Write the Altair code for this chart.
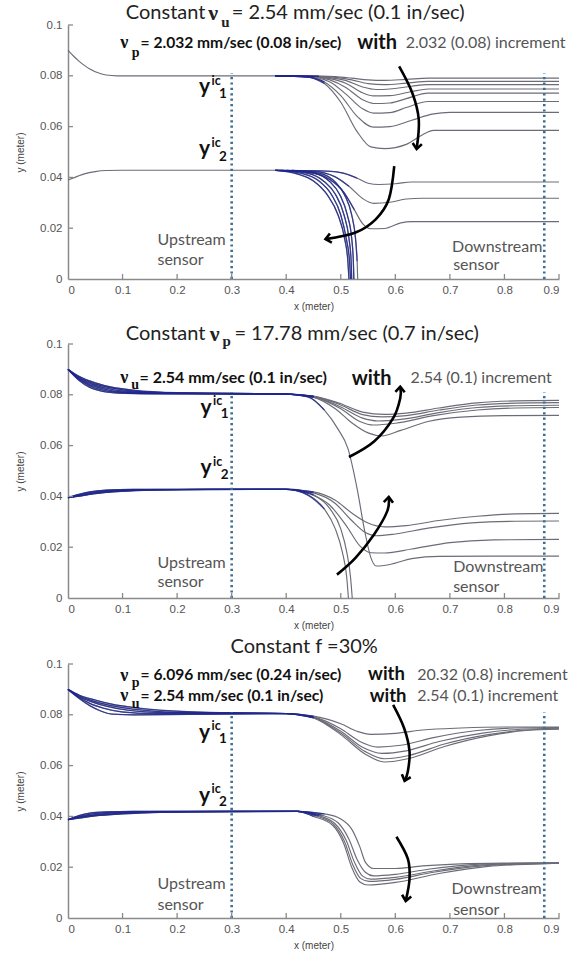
import altair as alt
import pandas as pd

# ---------------- axis ticks ----------------
X_TICKS = [0, 0.1, 0.2, 0.3, 0.4, 0.5, 0.6, 0.7, 0.8, 0.9]
Y_TICKS = [0, 0.02, 0.04, 0.06, 0.08, 0.1]
SENSOR_X = [0.3, 0.873]
SENSOR_TOP = 0.081

# ---------------- panel 1 : constant vu ----------------
P1_UPPER_BASE = [(0, 0.090), (0.01, 0.0878), (0.02, 0.0858), (0.03, 0.0841), (0.04, 0.0827),
                 (0.055, 0.0812), (0.07, 0.0803), (0.09, 0.0800), (0.2, 0.0800), (0.38, 0.0800)]
P1_UPPER = [
    [(0.38, 0.0800), (0.46, 0.0799), (0.49, 0.0797), (0.52, 0.0791), (0.55, 0.0784), (0.58, 0.0782), (0.62, 0.0786), (0.66, 0.0791), (0.9, 0.0791)],
    [(0.38, 0.0800), (0.46, 0.0798), (0.49, 0.0794), (0.52, 0.0784), (0.55, 0.0769), (0.58, 0.0765), (0.62, 0.0771), (0.66, 0.0778), (0.9, 0.0778)],
    [(0.38, 0.0800), (0.45, 0.0798), (0.48, 0.0793), (0.51, 0.0781), (0.54, 0.0756), (0.565, 0.0746), (0.59, 0.0748), (0.63, 0.0759), (0.66, 0.0765), (0.9, 0.0765)],
    [(0.38, 0.0800), (0.45, 0.0797), (0.48, 0.0789), (0.51, 0.0770), (0.54, 0.0733), (0.56, 0.0721), (0.59, 0.0722), (0.63, 0.0738), (0.66, 0.0748), (0.9, 0.0748)],
    [(0.38, 0.0800), (0.45, 0.0796), (0.48, 0.0784), (0.51, 0.0753), (0.54, 0.0706), (0.56, 0.0691), (0.59, 0.0693), (0.62, 0.0710), (0.66, 0.0732), (0.9, 0.0732)],
    [(0.38, 0.0800), (0.44, 0.0797), (0.48, 0.0776), (0.51, 0.0727), (0.54, 0.0670), (0.56, 0.0653), (0.59, 0.0655), (0.62, 0.0675), (0.66, 0.0699), (0.9, 0.0699)],
    [(0.38, 0.0800), (0.44, 0.0796), (0.47, 0.0776), (0.50, 0.0722), (0.53, 0.0640), (0.56, 0.0598), (0.59, 0.0600), (0.63, 0.0625), (0.67, 0.0650), (0.70, 0.0656), (0.9, 0.0656)],
    [(0.38, 0.0800), (0.44, 0.0795), (0.47, 0.0770), (0.50, 0.0696), (0.53, 0.0580), (0.555, 0.0520), (0.58, 0.0513), (0.62, 0.0530), (0.65, 0.0568), (0.67, 0.0585), (0.9, 0.0585)],
]
P1_LOWER_BASE = [(0, 0.0390), (0.015, 0.0402), (0.03, 0.0414), (0.05, 0.0423), (0.07, 0.0427), (0.1, 0.0428), (0.38, 0.0428)]
P1_LOWER = [
    [(0.38, 0.0428), (0.46, 0.0426), (0.50, 0.0419), (0.53, 0.0397), (0.55, 0.0377), (0.57, 0.0372), (0.60, 0.0375), (0.63, 0.0382), (0.9, 0.0382)],
    [(0.38, 0.0428), (0.45, 0.0424), (0.49, 0.0402), (0.515, 0.0365), (0.54, 0.0317), (0.56, 0.0298), (0.59, 0.0302), (0.62, 0.0315), (0.65, 0.0318), (0.9, 0.0318)],
    [(0.38, 0.0428), (0.44, 0.0421), (0.48, 0.0392), (0.505, 0.0343), (0.525, 0.0272), (0.54, 0.0218), (0.555, 0.0198), (0.58, 0.0199), (0.61, 0.0221), (0.63, 0.0226), (0.9, 0.0226)],
    [(0.38, 0.0428), (0.42, 0.0414), (0.45, 0.0386), (0.475, 0.0332), (0.495, 0.0252), (0.507, 0.0160), (0.513, 0.0070), (0.515, 0.0)],
    [(0.38, 0.0428), (0.43, 0.0415), (0.46, 0.0386), (0.483, 0.0332), (0.50, 0.0252), (0.51, 0.0160), (0.516, 0.0070), (0.518, 0.0)],
    [(0.39, 0.0428), (0.44, 0.0416), (0.47, 0.0383), (0.49, 0.0334), (0.506, 0.0252), (0.515, 0.0160), (0.519, 0.0070), (0.520, 0.0)],
    [(0.40, 0.0428), (0.45, 0.0417), (0.48, 0.0383), (0.498, 0.0333), (0.512, 0.0252), (0.520, 0.0160), (0.523, 0.0070), (0.524, 0.0)],
    [(0.41, 0.0428), (0.46, 0.0417), (0.49, 0.0381), (0.507, 0.0331), (0.52, 0.0252), (0.527, 0.0160), (0.530, 0.0070), (0.531, 0.0)],
]

# ---------------- panel 2 : constant vp ----------------
P2_UPPER = [
    [(0, 0.090), (0.02, 0.0857), (0.04, 0.0829), (0.06, 0.0815), (0.09, 0.0807), (0.15, 0.0804), (0.40, 0.0803),
     (0.45, 0.0795), (0.50, 0.0765), (0.54, 0.0732), (0.58, 0.0723), (0.62, 0.0728), (0.68, 0.0748), (0.75, 0.0768), (0.82, 0.0776), (0.9, 0.0778)],
    [(0, 0.090), (0.02, 0.0861), (0.04, 0.0835), (0.06, 0.0820), (0.09, 0.0810), (0.15, 0.0805), (0.40, 0.0803),
     (0.45, 0.0794), (0.50, 0.0760), (0.54, 0.0722), (0.575, 0.0713), (0.62, 0.0718), (0.68, 0.0740), (0.75, 0.0760), (0.82, 0.0767), (0.9, 0.0769)],
    [(0, 0.090), (0.02, 0.0864), (0.04, 0.0840), (0.065, 0.0823), (0.10, 0.0811), (0.16, 0.0806), (0.40, 0.0803),
     (0.45, 0.0793), (0.50, 0.0752), (0.54, 0.0708), (0.568, 0.0697), (0.61, 0.0703), (0.68, 0.0730), (0.75, 0.0750), (0.82, 0.0757), (0.9, 0.0759)],
    [(0, 0.090), (0.02, 0.0867), (0.045, 0.0841), (0.07, 0.0826), (0.10, 0.0815), (0.17, 0.0807), (0.40, 0.0803),
     (0.45, 0.0792), (0.50, 0.0745), (0.535, 0.0695), (0.56, 0.0681), (0.60, 0.0688), (0.67, 0.0718), (0.75, 0.0740), (0.82, 0.0748), (0.9, 0.0750)],
    [(0, 0.090), (0.02, 0.0870), (0.045, 0.0846), (0.07, 0.0831), (0.11, 0.0817), (0.18, 0.0808), (0.40, 0.0803),
     (0.45, 0.0790), (0.49, 0.0745), (0.52, 0.0690), (0.55, 0.0650), (0.575, 0.0638), (0.61, 0.0660), (0.66, 0.0695), (0.72, 0.0712), (0.80, 0.0718), (0.9, 0.0719)],
    [(0, 0.090), (0.02, 0.0873), (0.05, 0.0847), (0.08, 0.0830), (0.12, 0.0818), (0.20, 0.0808), (0.40, 0.0803),
     (0.44, 0.0792), (0.47, 0.0740), (0.495, 0.0665), (0.513, 0.0589), (0.53, 0.0430), (0.544, 0.0262), (0.555, 0.0160), (0.565, 0.0126),
     (0.59, 0.0132), (0.63, 0.0155), (0.68, 0.0164), (0.9, 0.0165)],
]
P2_LOWER = [
    [(0, 0.0395), (0.02, 0.0408), (0.04, 0.0418), (0.07, 0.0425), (0.12, 0.0428), (0.40, 0.0428),
     (0.45, 0.0418), (0.49, 0.0385), (0.52, 0.0335), (0.55, 0.0295), (0.58, 0.0280), (0.62, 0.0285), (0.68, 0.0305), (0.75, 0.0322), (0.82, 0.0331), (0.9, 0.0333)],
    [(0, 0.0395), (0.02, 0.0406), (0.045, 0.0417), (0.08, 0.0424), (0.13, 0.0427), (0.40, 0.0428),
     (0.45, 0.0414), (0.49, 0.0372), (0.52, 0.0305), (0.545, 0.0258), (0.565, 0.0245), (0.60, 0.0252), (0.66, 0.0275), (0.74, 0.0296), (0.82, 0.0302), (0.9, 0.0303)],
    [(0, 0.0395), (0.02, 0.0404), (0.05, 0.0415), (0.09, 0.0422), (0.14, 0.0426), (0.40, 0.0428),
     (0.44, 0.0412), (0.48, 0.0365), (0.51, 0.0285), (0.535, 0.0205), (0.555, 0.0178), (0.58, 0.0177), (0.63, 0.0193), (0.70, 0.0218), (0.78, 0.0229), (0.9, 0.0231)],
    [(0, 0.0395), (0.02, 0.0402), (0.05, 0.0413), (0.09, 0.0421), (0.15, 0.0426), (0.25, 0.0428), (0.40, 0.0428),
     (0.44, 0.0405), (0.47, 0.0350), (0.49, 0.0272), (0.503, 0.0180), (0.511, 0.0080), (0.514, 0.0)],
    [(0, 0.0395), (0.02, 0.0401), (0.05, 0.0411), (0.10, 0.0420), (0.16, 0.0425), (0.26, 0.0428), (0.41, 0.0428),
     (0.45, 0.0406), (0.48, 0.0352), (0.50, 0.0272), (0.511, 0.0180), (0.518, 0.0080), (0.521, 0.0)],
]

# ---------------- panel 3 : constant f ----------------
P3_UPPER = [
    [(0, 0.0900), (0.02, 0.0865), (0.04, 0.0836), (0.06, 0.0815), (0.08, 0.0803), (0.12, 0.0800), (0.25, 0.0802), (0.40, 0.0805),
     (0.45, 0.0795), (0.50, 0.0765), (0.53, 0.0735), (0.555, 0.0723), (0.60, 0.0727), (0.65, 0.0740), (0.72, 0.0748), (0.80, 0.0752), (0.9, 0.0752)],
    [(0, 0.0900), (0.02, 0.0869), (0.04, 0.0845), (0.065, 0.0826), (0.10, 0.0811), (0.16, 0.0805), (0.40, 0.0805),
     (0.45, 0.0792), (0.50, 0.0745), (0.535, 0.0695), (0.568, 0.0673), (0.61, 0.0680), (0.67, 0.0710), (0.75, 0.0738), (0.82, 0.0748), (0.9, 0.0750)],
    [(0, 0.0900), (0.02, 0.0872), (0.045, 0.0850), (0.07, 0.0834), (0.11, 0.0818), (0.18, 0.0808), (0.40, 0.0805),
     (0.45, 0.0790), (0.50, 0.0735), (0.54, 0.0672), (0.575, 0.0648), (0.62, 0.0658), (0.68, 0.0695), (0.76, 0.0728), (0.83, 0.0743), (0.9, 0.0747)],
    [(0, 0.0900), (0.02, 0.0875), (0.045, 0.0855), (0.075, 0.0838), (0.12, 0.0822), (0.20, 0.0810), (0.40, 0.0805),
     (0.45, 0.0789), (0.50, 0.0728), (0.545, 0.0655), (0.58, 0.0627), (0.625, 0.0640), (0.69, 0.0685), (0.77, 0.0722), (0.84, 0.0740), (0.9, 0.0745)],
    [(0, 0.0900), (0.02, 0.0878), (0.05, 0.0858), (0.08, 0.0842), (0.13, 0.0826), (0.22, 0.0812), (0.30, 0.0808), (0.40, 0.0805),
     (0.45, 0.0788), (0.50, 0.0722), (0.545, 0.0645), (0.58, 0.0614), (0.625, 0.0628), (0.69, 0.0675), (0.77, 0.0717), (0.84, 0.0738), (0.9, 0.0743)],
]
P3_LOWER = [
    [(0, 0.0387), (0.02, 0.0403), (0.04, 0.0413), (0.07, 0.0418), (0.12, 0.0420), (0.42, 0.0420),
     (0.47, 0.0410), (0.50, 0.0390), (0.52, 0.0350), (0.535, 0.0280), (0.545, 0.0220), (0.56, 0.0195), (0.60, 0.0195), (0.65, 0.0205), (0.72, 0.0213), (0.80, 0.0216), (0.9, 0.0217)],
    [(0, 0.0387), (0.02, 0.0400), (0.045, 0.0410), (0.08, 0.0416), (0.14, 0.0419), (0.42, 0.0420),
     (0.465, 0.0405), (0.495, 0.0375), (0.515, 0.0310), (0.53, 0.0230), (0.545, 0.0180), (0.56, 0.0166), (0.60, 0.0172), (0.66, 0.0192), (0.74, 0.0210), (0.82, 0.0215), (0.9, 0.0217)],
    [(0, 0.0387), (0.02, 0.0397), (0.05, 0.0407), (0.09, 0.0414), (0.16, 0.0418), (0.42, 0.0420),
     (0.46, 0.0403), (0.49, 0.0370), (0.51, 0.0305), (0.525, 0.0220), (0.54, 0.0165), (0.555, 0.0153), (0.60, 0.0160), (0.67, 0.0185), (0.75, 0.0207), (0.83, 0.0214), (0.9, 0.0216)],
    [(0, 0.0387), (0.02, 0.0395), (0.05, 0.0404), (0.10, 0.0412), (0.18, 0.0417), (0.42, 0.0420),
     (0.455, 0.0402), (0.487, 0.0368), (0.507, 0.0300), (0.522, 0.0210), (0.537, 0.0155), (0.552, 0.0144), (0.60, 0.0152), (0.67, 0.0180), (0.76, 0.0205), (0.84, 0.0213), (0.9, 0.0216)],
    [(0, 0.0387), (0.02, 0.0393), (0.05, 0.0402), (0.10, 0.0410), (0.15, 0.0415), (0.22, 0.0419), (0.30, 0.0420), (0.42, 0.0420),
     (0.45, 0.0400), (0.485, 0.0365), (0.505, 0.0295), (0.52, 0.0200), (0.535, 0.0142), (0.55, 0.0130), (0.60, 0.0140), (0.68, 0.0175), (0.77, 0.0203), (0.85, 0.0212), (0.9, 0.0215)],
]

# ---------------- arrows ----------------
P1_ARROWS = [[(0.607, 0.0837), (0.631, 0.0733), (0.643, 0.0627), (0.639, 0.0512)],
             [(0.598, 0.0444), (0.588, 0.0314), (0.564, 0.0235), (0.527, 0.0183), (0.472, 0.0157)]]
P1_HEAD_ANGLES = [97, 168]
P2_ARROWS = [[(0.515, 0.0555), (0.561, 0.0616), (0.596, 0.0708), (0.609, 0.0787), (0.609, 0.0832)],
             [(0.493, 0.0092), (0.527, 0.0158), (0.561, 0.0250), (0.585, 0.0341), (0.588, 0.0398)]]
P2_HEAD_ANGLES = [272, 274]
P3_ARROWS = [[(0.596, 0.0839), (0.616, 0.0748), (0.626, 0.0656), (0.623, 0.0578), (0.617, 0.0540)],
             [(0.602, 0.0320), (0.623, 0.0233), (0.626, 0.0153), (0.619, 0.0067)]]
P3_HEAD_ANGLES = [108, 100]

# ---------------- texts: (x, y, text, size) ----------------
P1_TITLE = [(0.252, 0.1047, "Constant", 20)]
P1_TITLE_NU = [(0.257, 0.1047, "ν", 22), (0.281, 0.1012, "u", 15)]
P1_TITLE_REST = [(0.300, 0.1047, "= 2.54 mm/sec (0.1 in/sec)", 20)]
P1_NU = [(0.096, 0.0928, "ν", 18), (0.117, 0.0890, "p", 14)]
P1_BOLD = [(0.133, 0.0928, "= 2.032 mm/sec (0.08 in/sec)", 15.6), (0.530, 0.0931, "with", 20)]
P1_NORMAL = [(0.619, 0.0928, "2.032 (0.08) increment", 16)]
P1_YIC = [(0.240, 0.0756, "y", 21), (0.263, 0.0781, "ic", 12.5), (0.277, 0.0728, "1", 13.5),
          (0.240, 0.0510, "y", 21), (0.263, 0.0535, "ic", 12.5), (0.277, 0.0482, "2", 13.5)]
P1_SENSOR = [(0.164, 0.0152, "Upstream", 16), (0.164, 0.0073, "sensor", 16),
             (0.704, 0.0125, "Downstream", 16), (0.706, 0.0054, "sensor", 16)]

P2_TITLE = [(0.252, 0.1040, "Constant", 20)]
P2_TITLE_NU = [(0.260, 0.1040, "ν", 22), (0.283, 0.1010, "p", 15)]
P2_TITLE_REST = [(0.305, 0.1040, "= 17.78 mm/sec (0.7 in/sec)", 20)]
P2_NU = [(0.096, 0.0866, "ν", 18), (0.116, 0.0840, "u", 14)]
P2_BOLD = [(0.131, 0.0866, "= 2.54 mm/sec (0.1 in/sec)", 16), (0.520, 0.0864, "with", 20)]
P2_NORMAL = [(0.628, 0.0866, "2.54 (0.1) increment", 16)]
P2_YIC = [(0.243, 0.0750, "y", 21), (0.266, 0.0776, "ic", 12.5), (0.280, 0.0724, "1", 13.5),
          (0.243, 0.0511, "y", 21), (0.266, 0.0537, "ic", 12.5), (0.280, 0.0485, "2", 13.5)]
P2_SENSOR = [(0.164, 0.0138, "Upstream", 16), (0.164, 0.0063, "sensor", 16),
             (0.706, 0.0121, "Downstream", 16), (0.706, 0.0042, "sensor", 16)]

P3_TITLE = [(0.433, 0.1066, "Constant f  =30%", 20)]
P3_NU = [(0.096, 0.0954, "ν", 18), (0.117, 0.0926, "p", 14), (0.096, 0.0874, "ν", 18), (0.117, 0.0844, "u", 14)]
P3_BOLD = [(0.133, 0.0957, "= 6.096 mm/sec (0.24 in/sec)", 15.6), (0.550, 0.0960, "with", 18.5),
           (0.133, 0.0874, "= 2.54 mm/sec (0.1 in/sec)", 15.6), (0.553, 0.0874, "with", 18.5)]
P3_NORMAL = [(0.640, 0.0957, "20.32 (0.8) increment", 16), (0.640, 0.0874, "2.54 (0.1) increment", 16)]
P3_YIC = [(0.240, 0.0728, "y", 21), (0.263, 0.0756, "ic", 12.5), (0.277, 0.0705, "1", 13.5),
          (0.240, 0.0480, "y", 21), (0.263, 0.0506, "ic", 12.5), (0.277, 0.0458, "2", 13.5)]
P3_SENSOR = [(0.164, 0.0133, "Upstream", 16), (0.164, 0.0053, "sensor", 16),
             (0.703, 0.0113, "Downstream", 16), (0.706, 0.0033, "sensor", 16)]

# ---------------- styling ----------------
W, H = 491, 254
GREY = "#6c6c78"
NAVY = "#1e2590"
SENSOR_COLOR = "#3d6f94"
AXIS_GREY = "#8a8a8a"
LABEL_GREY = "#555555"
SANS = "Lato"
CHEVRON = "M-1,-0.85L0,0L-1,0.85"

xs = alt.Scale(domain=[0, 0.9], nice=False, zero=False)
ys = alt.Scale(domain=[0, 0.1], nice=False, zero=False)
x_axis = alt.Axis(values=X_TICKS, format=".1~f", title="x (meter)", ticks=False, grid=False,
                  domainColor=AXIS_GREY, domainWidth=1.5, labelFont="Liberation Sans",
                  labelFontSize=11.5, labelColor=LABEL_GREY, labelPadding=5,
                  titleFont="Liberation Sans", titleFontSize=10, titleFontWeight="normal",
                  titleColor="#444444", titlePadding=6)
y_axis = alt.Axis(values=Y_TICKS, format=".2~f", title="y (meter)", ticks=False, grid=False,
                  domainColor=AXIS_GREY, domainWidth=1.5, labelFont="Liberation Sans",
                  labelFontSize=11.5, labelColor=LABEL_GREY, labelPadding=6,
                  titleFont="Liberation Sans", titleFontSize=10, titleFontWeight="normal",
                  titleColor="#444444", titlePadding=14)


def X(field="x"):
    return alt.X(f"{field}:Q", scale=xs, axis=x_axis)


def Y(field="y"):
    return alt.Y(f"{field}:Q", scale=ys, axis=y_axis)


def curves_df(groups):
    rows = []
    for fam, curves in groups:
        for i, pts in enumerate(curves):
            for j, (x, y) in enumerate(pts):
                rows.append({"cid": f"{fam}{i}", "fam": fam, "ord": j, "x": x, "y": y})
    return pd.DataFrame(rows)


def text_layer(items, color, font, weight="normal", align="left"):
    df = pd.DataFrame(items, columns=["x", "y", "text", "size"])
    return alt.Chart(df).mark_text(align=align, baseline="middle", font=font, fontWeight=weight,
                                   color=color).encode(
        x=X(), y=Y(), text="text:N", size=alt.Size("size:Q", scale=None))


def panel(groups, navy_filter, arrows, head_angles, texts):
    cdf = curves_df(groups)
    lines = alt.Chart(cdf).mark_line(interpolate="monotone", color=GREY, strokeWidth=1.15).encode(
        x=X(), y=Y(), detail="cid:N", order="ord:Q")
    navy = alt.Chart(cdf).transform_filter(navy_filter).mark_line(
        interpolate="monotone", color=NAVY, strokeWidth=1.3, opacity=0.75).encode(
        x=X(), y=Y(), detail="cid:N", order="ord:Q")
    sdf = pd.DataFrame({"x": SENSOR_X, "y": [0.0] * len(SENSOR_X), "y2": [SENSOR_TOP] * len(SENSOR_X)})
    sensors = alt.Chart(sdf).mark_rule(color=SENSOR_COLOR, strokeWidth=2.6, strokeDash=[2.2, 3.2]).encode(
        x=X(), y=Y(), y2="y2:Q")
    xt = alt.Chart(pd.DataFrame({"x": X_TICKS[1:]})).mark_rule(color=AXIS_GREY, strokeWidth=1.3).encode(
        x=X(), y=alt.value(H), y2=alt.value(H - 5))
    yt = alt.Chart(pd.DataFrame({"y": Y_TICKS[1:]})).mark_rule(color=AXIS_GREY, strokeWidth=1.3).encode(
        y=Y(), x=alt.value(0), x2=alt.value(5))
    adf = curves_df([("a", arrows)])
    arrow_lines = alt.Chart(adf).mark_line(interpolate="cardinal", color="black", strokeWidth=2.6).encode(
        x=X(), y=Y(), detail="cid:N", order="ord:Q")
    hdf = pd.DataFrame({"x": [a[-1][0] for a in arrows], "y": [a[-1][1] for a in arrows], "ang": head_angles})
    heads = alt.Chart(hdf).mark_point(shape=CHEVRON, filled=False, color="black", strokeWidth=2.6,
                                      size=120, opacity=1).encode(
        x=X(), y=Y(), angle=alt.Angle("ang:Q", scale=None))
    layers = [lines, navy, sensors, xt, yt, arrow_lines, heads] + texts
    return alt.layer(*layers).properties(width=W, height=H)


p1 = panel([("U", [P1_UPPER_BASE] + P1_UPPER), ("L", [P1_LOWER_BASE] + P1_LOWER)],
           "(datum.fam == 'U' && datum.x >= 0.33 && datum.x <= 0.47) || (datum.fam == 'L' && datum.x >= 0.35 && datum.x <= 0.53)",
           P1_ARROWS, P1_HEAD_ANGLES,
           [text_layer(P1_TITLE, "#222222", SANS, align="right"),
            text_layer(P1_TITLE_NU, "#222222", "Liberation Serif", weight="bold"),
            text_layer(P1_TITLE_REST, "#222222", SANS),
            text_layer(P1_NU, "#111111", "Liberation Serif", weight="bold"),
            text_layer(P1_BOLD, "#111111", SANS, weight="bold"),
            text_layer(P1_NORMAL, LABEL_GREY, SANS),
            text_layer(P1_YIC, "#111111", SANS, weight="bold"),
            text_layer(P1_SENSOR, LABEL_GREY, SANS)])

p2 = panel([("U", P2_UPPER), ("L", P2_LOWER)],
           "datum.x <= 0.47",
           P2_ARROWS, P2_HEAD_ANGLES,
           [text_layer(P2_TITLE, "#222222", SANS, align="right"),
            text_layer(P2_TITLE_NU, "#222222", "Liberation Serif", weight="bold"),
            text_layer(P2_TITLE_REST, "#222222", SANS),
            text_layer(P2_NU, "#111111", "Liberation Serif", weight="bold"),
            text_layer(P2_BOLD, "#111111", SANS, weight="bold"),
            text_layer(P2_NORMAL, LABEL_GREY, SANS),
            text_layer(P2_YIC, "#111111", SANS, weight="bold"),
            text_layer(P2_SENSOR, LABEL_GREY, SANS)])

p3 = panel([("U", P3_UPPER), ("L", P3_LOWER)],
           "datum.x <= 0.47",
           P3_ARROWS, P3_HEAD_ANGLES,
           [text_layer(P3_TITLE, "#222222", SANS, align="center"),
            text_layer(P3_NU, "#111111", "Liberation Serif", weight="bold"),
            text_layer(P3_BOLD, "#111111", SANS, weight="bold"),
            text_layer(P3_NORMAL, LABEL_GREY, SANS),
            text_layer(P3_YIC, "#111111", SANS, weight="bold"),
            text_layer(P3_SENSOR, LABEL_GREY, SANS)])

top_two = alt.vconcat(p1, p2, spacing=10)
chart = alt.vconcat(top_two, p3, spacing=6).properties(
    padding={"left": 15, "top": 2, "right": 0, "bottom": 0},
    background="white",
).configure_view(stroke=None)

chart.save("out.html", embed_options={"renderer": "svg", "actions": False})
